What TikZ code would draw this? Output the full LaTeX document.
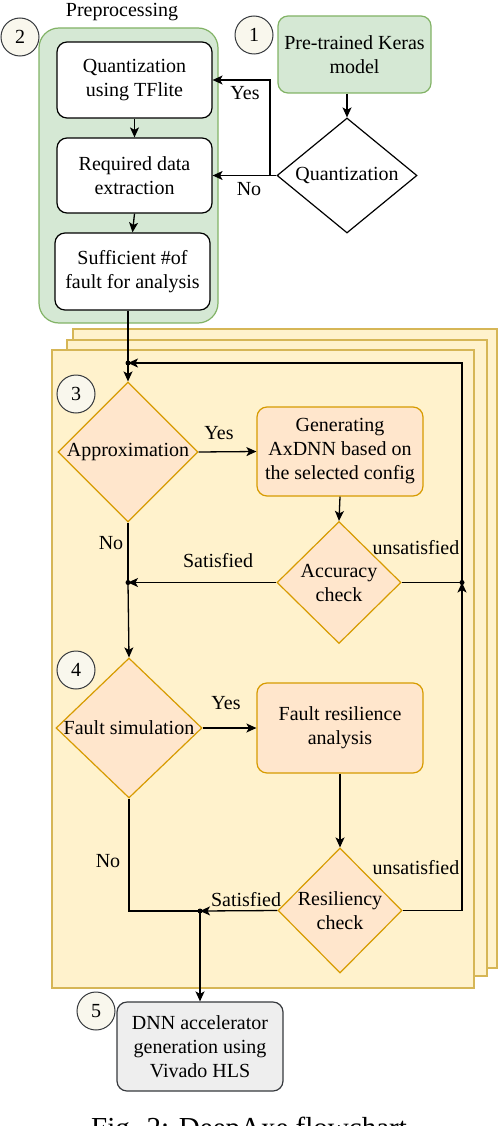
\documentclass[tikz,border=0pt]{standalone}
\usepackage{fontspec}
\setmainfont{Liberation Serif}
\usetikzlibrary{shapes.geometric,arrows.meta}
\definecolor{gfill}{HTML}{D5E8D4}
\definecolor{gdraw}{HTML}{82B366}
\definecolor{yfill}{HTML}{FFF2CC}
\definecolor{ydraw}{HTML}{D6B656}
\definecolor{ofill}{HTML}{FFE6CC}
\definecolor{odraw}{HTML}{D79B00}
\definecolor{greyfill}{HTML}{EEEEEE}
\definecolor{greydraw}{HTML}{36393D}
\definecolor{bfill}{HTML}{F9F7ED}
\begin{document}
\begin{tikzpicture}[x=1pt,y=-1pt,font=\fontsize{20}{24}\selectfont,
  proc/.style={rectangle,rounded corners=10pt,draw=black,fill=white,line width=1.2pt,align=center,minimum width=155pt,minimum height=76pt,inner sep=2pt},
  gproc/.style={proc,draw=gdraw,fill=gfill},
  oproc/.style={proc,draw=odraw,fill=ofill,minimum width=166pt,minimum height=89pt},
  greyproc/.style={proc,draw=greydraw,fill=greyfill,minimum width=166pt,minimum height=89pt},
  dia/.style={diamond,draw=black,fill=white,inner sep=0pt,line width=1.2pt},
  odia/.style={dia,draw=odraw,fill=ofill},
  diatext/.style={align=center,inner sep=0pt},
  badge/.style={circle,draw=greydraw,fill=bfill,minimum size=38pt,inner sep=0pt,line width=1pt},
  conn/.style={line width=1.3pt},
  arr/.style={conn,-{Stealth[length=10pt,width=9pt,inset=2.5pt]}},
  jdot/.style={circle,fill=black,inner sep=0pt,minimum size=5pt},
  lbl/.style={inner sep=0pt}]
\useasboundingbox (0,0) rectangle (498,1126);

% containers
\draw[draw=gdraw,fill=gfill,rounded corners=20pt,line width=1.2pt] (39,28) rectangle (218,323);
\draw[draw=ydraw,fill=yfill,line width=1.2pt] (73,329) rectangle (497,968);
\draw[draw=ydraw,fill=yfill,line width=1.2pt] (67,340) rectangle (487,976);
\draw[draw=ydraw,fill=yfill,line width=1.2pt] (52,350) rectangle (474,988);
\node[lbl] (pre) at (122,12) {Preprocessing};

% badges
\node[badge] (n1) at (254,35) {1};
\node[badge] (n2) at (20,37) {2};
\node[badge] (n3) at (76,394) {3};
\node[badge] (n4) at (76,670) {4};
\node[badge] (n5) at (96,1011) {5};

% preprocessing
\node[proc] (b1) at (134.5,80) {Quantization\\using TFlite};
\node[proc,minimum height=75pt] (b2) at (134.5,175.5) {Required data\\extraction};
\node[proc,minimum height=77pt] (b3) at (132.5,271.5) {Sufficient \#of\\fault for analysis};
\node[gproc,minimum width=153pt,minimum height=77pt] (keras) at (354.5,54.5) {Pre-trained Keras\\model};
\node[dia,minimum width=140pt,minimum height=115pt] (qd) at (347,175.5) {};
\node[diatext] (qdt) at (qd) {Quantization};

% approximation stage
\node[odia,minimum width=140pt,minimum height=140pt] (approx) at (128,452) {};
\node[diatext] (approxt) at (approx) {Approximation};
\node[oproc] (gen) at (340,451.5) {Generating\\AxDNN based on\\the selected config};
\node[odia,minimum width=124pt,minimum height=122pt] (acc) at (339,582.5) {};
\node[diatext] (acct) at (acc) {Accuracy\\check};

% fault stage
\node[odia,minimum width=146pt,minimum height=140pt] (fsim) at (129,728) {};
\node[diatext] (fsimt) at (fsim) {Fault simulation};
\node[oproc,minimum height=90pt] (fra) at (340,728) {Fault resilience\\analysis};
\node[odia,minimum width=124pt,minimum height=125pt] (res) at (340,910.5) {};
\node[diatext] (rest) at (res) {Resiliency\\check};

\node[greyproc] (dnn) at (200,1046.5) {DNN accelerator\\generation using\\Vivado HLS};

% junctions
\coordinate (qsplit) at (270,175.5);
\coordinate (j1) at (128,363);
\coordinate (j2) at (128,582.5);
\coordinate (j3) at (462,582.5);
\coordinate (j4) at (200,911);

% connectors
\draw[arr] (qd.north |- keras.south) -- (qd.north);
\draw[arr] (b1.south) -- (b2.north);
\draw[arr] (b2.south) -- (b3.north);
\draw[arr] (qd.west) -- (qsplit) |- (b1.east);
\draw[arr] (qd.west) -- (b2.east);
\draw[conn] (b3.south -| j1) -- (j1);
\draw[arr] (j1) -- (approx.north);
\draw[arr] (approx.east) -- (gen.west);
\draw[arr] (gen.south) -- (acc.north);
\draw[arr] (acc.west) -- (j2);
\draw[conn] (approx.south) -- (j2);
\draw[arr] (j2) -- (fsim.north);
\draw[arr] (acc.east) -- (j3) -- (j3 |- j1) -- (j1);
\draw[arr] (fsim.east) -- (fra.west);
\draw[arr] (fra.south) -- (res.north);
\draw[arr] (res.west) -- (j4);
\draw[conn] (fsim.south) |- (j4);
\draw[arr] (res.east) -| (j3);
\draw[arr] (j4) -- (dnn.north);
\foreach \j in {j1,j2,j3,j4} \node[jdot] at (\j) {};

% labels
\node[lbl] (lyes1) at (245,93) {Yes};
\node[lbl] (lno1) at (249,189) {No};
\node[lbl] (lyes2) at (219,433) {Yes};
\node[lbl] (lsat1) at (218,561) {Satisfied};
\node[lbl] (lno2) at (111,543) {No};
\node[lbl] (lun1) at (416,548) {unsatisfied};
\node[lbl] (lyes3) at (226,703) {Yes};
\node[lbl] (lno3) at (108,861) {No};
\node[lbl] (lsat2) at (246,900) {Satisfied};
\node[lbl] (lun2) at (416,868) {unsatisfied};

\node[anchor=base,inner sep=0pt,font=\fontsize{29}{34}\selectfont] (cap) at (249,1137) {Fig. 2: DeepAxe flowchart};
\end{tikzpicture}
\end{document}
